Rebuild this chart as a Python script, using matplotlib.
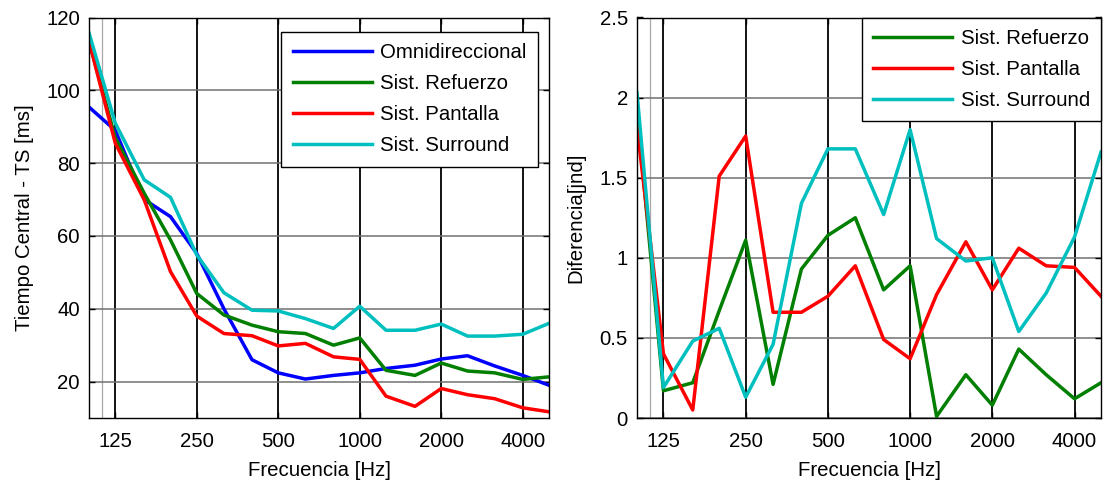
import matplotlib
matplotlib.use("Agg")
import matplotlib.pyplot as plt
from matplotlib.ticker import NullLocator, FixedLocator, FixedFormatter

plt.rcParams['font.family'] = ['Liberation Sans', 'DejaVu Sans']

freqs = [100, 125, 160, 200, 250, 315, 400, 500, 630, 800, 1000,
         1250, 1600, 2000, 2500, 3150, 4000, 5000]

# Left panel: Tiempo Central - TS [ms]
ts_omni = [95.4, 89, 70, 65.3, 55.2, 40, 26, 22.4, 20.7, 21.7, 22.4,
           23.6, 24.5, 26.2, 27.1, 24.3, 21.7, 19]
ts_refuerzo = [113.5, 87, 71.7, 58.9, 44.2, 38.3, 35.5, 33.7, 33.2, 30, 32,
               23.1, 21.7, 25.1, 22.9, 22.4, 20.6, 21.3]
ts_pantalla = [113.5, 85.5, 69.9, 50.2, 38, 33.2, 32.6, 29.8, 30.5, 26.8, 26.1,
               16, 13.2, 18.1, 16.4, 15.3, 12.8, 11.7]
ts_surround = [115.8, 91, 75.4, 70.6, 54.8, 44.4, 39.6, 39.4, 37.3, 34.6, 40.7,
               34.1, 34.1, 35.8, 32.5, 32.5, 33, 36]

# Right panel: Diferencia [jnd]
jnd_refuerzo = [1.92, 0.17, 0.22, 0.67, 1.11, 0.21, 0.93, 1.14, 1.25, 0.80, 0.95,
                0.01, 0.27, 0.08, 0.43, 0.27, 0.12, 0.22]
jnd_pantalla = [1.82, 0.40, 0.05, 1.51, 1.76, 0.66, 0.66, 0.76, 0.95, 0.49, 0.37,
                0.77, 1.10, 0.80, 1.06, 0.95, 0.94, 0.76]
jnd_surround = [2.03, 0.19, 0.48, 0.56, 0.13, 0.46, 1.34, 1.68, 1.68, 1.27, 1.80,
                1.12, 0.98, 1.00, 0.54, 0.78, 1.13, 1.66]

xtick_vals = [125, 250, 500, 1000, 2000, 4000]
xtick_labels = ['125', '250', '500', '1000', '2000', '4000']

left_labels = ['Omnidireccional', 'Sist. Refuerzo', 'Sist. Pantalla', 'Sist. Surround']
right_labels = ['Sist. Refuerzo', 'Sist. Pantalla', 'Sist. Surround']

c_blue = '#0000ff'
c_green = '#007f00'
c_red = '#ff0000'
c_cyan = '#00bfbf'

FS = 14.7
LW = 2.5

fig = plt.figure(figsize=(11.04, 4.8), dpi=100)
ax1 = fig.add_axes([89/1104, 62/480, 460/1104, 400.5/480])
ax2 = fig.add_axes([637/1104, 62/480, 464/1104, 400.5/480])


def style_axis(ax, yticks, ylim):
    ax.set_xscale('log')
    ax.set_xlim(100, 5000)
    ax.set_ylim(*ylim)
    ax.xaxis.set_major_locator(FixedLocator(xtick_vals))
    ax.xaxis.set_major_formatter(FixedFormatter(xtick_labels))
    ax.xaxis.set_minor_locator(NullLocator())
    ax.set_yticks(yticks)
    for v in xtick_vals:
        ax.axvline(v, color='black', lw=1.3, zorder=1)
    ax.axvline(112, color='#a8a8a8', lw=0.9, zorder=1)
    for v in yticks:
        ax.axhline(v, color='#707070', lw=1.1, zorder=1)
    ax.tick_params(direction='in', length=4, width=1, top=True, right=True,
                   labelsize=FS, colors='black')
    ax.tick_params(axis='x', pad=10)
    ax.tick_params(axis='y', pad=6.5)
    for s in ax.spines.values():
        s.set_linewidth(1.0)
        s.set_color('black')
        s.set_zorder(5)
    ax.set_xlabel('Frecuencia [Hz]', fontsize=FS, labelpad=7)


style_axis(ax1, [20, 40, 60, 80, 100, 120], (10, 120))
style_axis(ax2, [0, 0.5, 1, 1.5, 2, 2.5], (0, 2.5))
ax2.yaxis.set_major_formatter(FixedFormatter(['0', '0.5', '1', '1.5', '2', '2.5']))

ax1.plot(freqs, ts_omni, color=c_blue, lw=LW, label=left_labels[0], zorder=3)
ax1.plot(freqs, ts_refuerzo, color=c_green, lw=LW, label=left_labels[1], zorder=3)
ax1.plot(freqs, ts_pantalla, color=c_red, lw=LW, label=left_labels[2], zorder=3)
ax1.plot(freqs, ts_surround, color=c_cyan, lw=LW, label=left_labels[3], zorder=3)
ax1.set_ylabel('Tiempo Central - TS [ms]', fontsize=FS, labelpad=9)

ax2.plot(freqs, jnd_refuerzo, color=c_green, lw=LW, label=right_labels[0], zorder=3)
ax2.plot(freqs, jnd_pantalla, color=c_red, lw=LW, label=right_labels[1], zorder=3)
ax2.plot(freqs, jnd_surround, color=c_cyan, lw=LW, label=right_labels[2], zorder=3)
ax2.set_ylabel('Diferencia[jnd]', fontsize=FS, labelpad=10)

leg_kw = dict(fontsize=FS, fancybox=False, shadow=False, framealpha=1,
              edgecolor='black', handlelength=3.9, handletextpad=0.4,
              labelspacing=0.6, borderpad=0.55, borderaxespad=0)
l1 = ax1.legend(loc='upper right', bbox_to_anchor=(0.976, 0.965), **leg_kw)
l2 = ax2.legend(loc='upper right', bbox_to_anchor=(1.0, 1.0), **leg_kw)
for lg in (l1, l2):
    lg.get_frame().set_linewidth(1.0)
    lg.set_zorder(10)

fig.savefig('out.png', dpi=100)
